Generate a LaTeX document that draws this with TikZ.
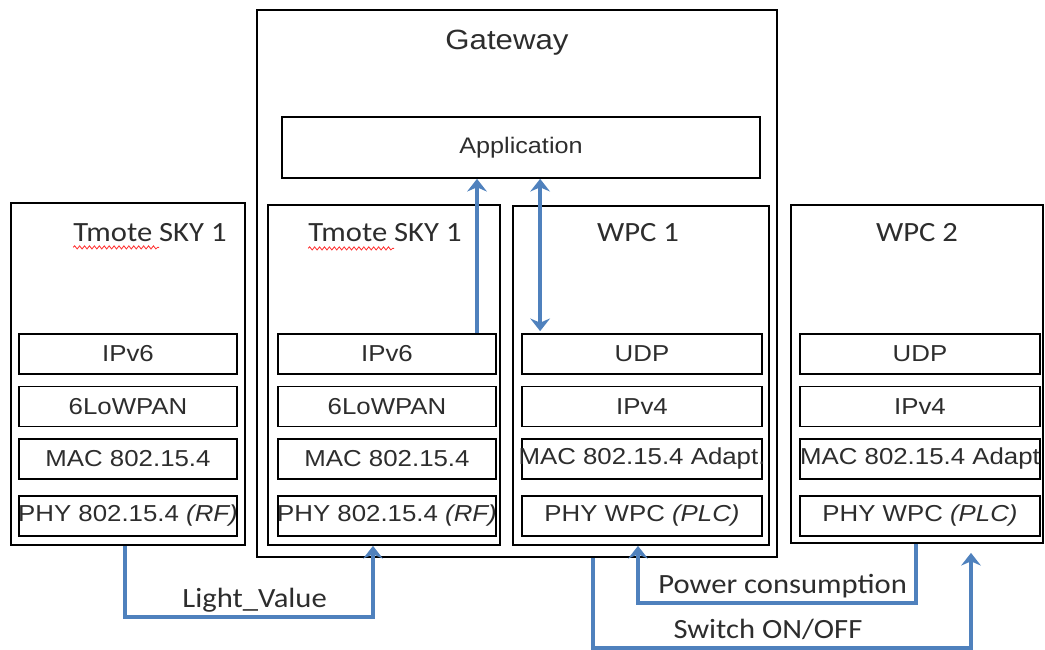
\documentclass[tikz,border=0pt]{standalone}
\usepackage{fontspec}
\setmainfont{Liberation Sans}[FakeStretch=1.12]
\newfontfamily\calib{Carlito}[FakeStretch=1.1]
\usepackage{tikz}
\usetikzlibrary{arrows.meta, positioning, calc, decorations.pathmorphing}
\definecolor{flowblue}{RGB}{79,129,189}
\definecolor{inkgray}{RGB}{45,45,45}

\tikzset{
  box/.style={draw, line width=1.2pt, inner sep=0pt},
  layer/.style={box, minimum height=1cm, text=inkgray,
    font=\fontsize{16.4}{19}\selectfont,
    execute at begin node={\hbox to 0pt\bgroup\hss},
    execute at end node={\hss\egroup}},
  devtitle/.style={inner sep=0pt, text=inkgray, font=\calib\fontsize{19.8}{22}\selectfont},
  lbl/.style={inner sep=0pt, anchor=base, yshift=6.5pt, text=inkgray,
    font=\calib\fontsize{19.8}{22}\selectfont},
  flow/.style={->, draw=flowblue, line width=2.6pt},
  squig/.style={red!80, line width=0.6pt, decorate,
    decoration={snake, amplitude=1.1pt, segment length=3.5pt}},
  >={Stealth[length=9pt, width=14pt, inset=3pt]}
}

\begin{document}
\begin{tikzpicture}[x=0.025cm, y=-0.025cm]
  \useasboundingbox (0,0) rectangle (1045,650);
  % Gateway
  \node[box, minimum width=13cm, minimum height=13.675cm] (gw) at (517,283.5) {};
  \node[inner sep=0pt, text=inkgray, font=\fontsize{19.8}{22}\selectfont] (gwt) at (507,43) {Gateway};
  \node[box, minimum width=11.95cm, minimum height=1.525cm, text=inkgray,
        font=\fontsize{16}{19}\selectfont] (app) at (521,147.5) {Application};
  % Devices
  \node[box, minimum width=5.85cm, minimum height=8.55cm] (tm1) at (128,374) {};
  \node[box, minimum width=5.8cm, minimum height=8.5cm] (tm2) at (384,375) {};
  \node[box, minimum width=6.4cm, minimum height=8.475cm] (wpc1) at (641,375.5) {};
  \node[box, minimum width=6.3cm, minimum height=8.45cm] (wpc2) at (917,374) {};
  \node[devtitle] (tm1t) at (150,233) {Tmote SKY 1};
  \node[devtitle] (tm2t) at (385,233) {Tmote SKY 1};
  \node[devtitle] (wpc1t) at (638,233) {WPC 1};
  \node[devtitle] (wpc2t) at (917,233) {WPC 2};
  \draw[squig] ($(tm1t.south west)+(0,5)$) -- ++(86,0);
  \draw[squig] ($(tm2t.south west)+(0,6)$) -- ++(86,0);
  % Protocol stacks
  \foreach \c/\x in {tm1/128, tm2/387}
    \foreach \r/\y/\txt in {1/354/IPv6, 2/406.5/6LoWPAN, 3/459/MAC 802.15.4,
                            4/516/{PHY 802.15.4 \textit{(RF)}}}
      \node[layer, minimum width=5.45cm] (\c l\r) at (\x,\y) {\txt};
  \foreach \c/\x/\mac in {wpc1/642/{MAC 802.15.4 Adapt.}, wpc2/920/{MAC 802.15.4 Adapt}}
    \foreach \r/\y/\txt in {1/354/UDP, 2/406.5/IPv4, 3/459/\mac,
                            4/516/{PHY WPC \textit{(PLC)}}}
      \node[layer, minimum width=6cm] (\c l\r) at (\x,\y) {\txt};
  % Inside the gateway
  \draw[flow] ($(tm2l1.north)+(90,0)$) coordinate (up0) -- (up0 |- app.south);
  \draw[flow, <->] ($(wpc1l1.north west)+(19,-2)$) coordinate (dn0) -- (dn0 |- app.south);
  % Links between the devices
  \draw[flow] ($(tm1.south)+(-3,0)$) |- node[lbl, pos=0.75, xshift=4pt]{Light\_Value}
    ($(tm2.south)+(-11,71)$) -- ($(tm2.south)+(-11,0)$);
  \draw[flow] ($(wpc2.south)+(-1,0)$) |- node[lbl, pos=0.75, xshift=4pt]{Power consumption}
    ($(wpc1.south)+(-3,57)$) -- ($(wpc1.south)+(-3,0)$);
  \draw[flow] ($(gw.south)+(76,0)$) |- node[lbl, pos=0.75, xshift=-10pt]{Switch ON/OFF}
    ($(wpc2.south)+(54,104)$) -- ($(wpc2.south)+(54,9)$);
\end{tikzpicture}
\end{document}
